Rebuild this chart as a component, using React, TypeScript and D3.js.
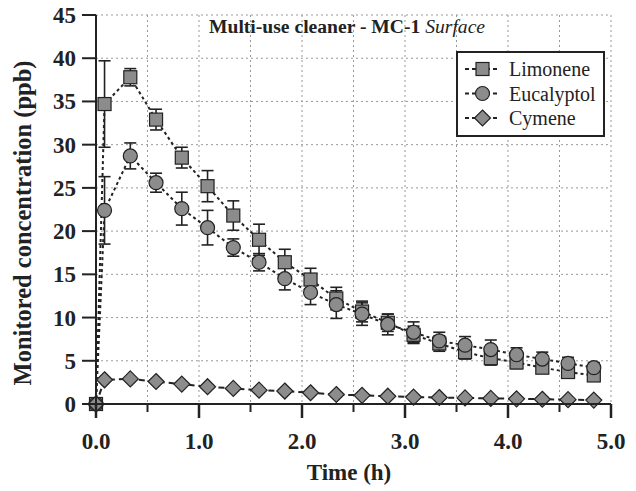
import React from 'react';
import * as d3 from 'd3';

const times = [0, 0.083, 0.333, 0.583, 0.833, 1.083, 1.333, 1.583, 1.833, 2.083, 2.333, 2.583, 2.833, 3.083, 3.333, 3.583, 3.833, 4.083, 4.333, 4.583, 4.833];

const limonene = [0, 34.7, 37.8, 32.9, 28.5, 25.2, 21.8, 19.0, 16.4, 14.4, 12.2, 10.7, 9.4, 8.0, 7.0, 6.0, 5.3, 4.8, 4.2, 3.7, 3.3];
const limoneneErr = [0, 5.0, 1.0, 1.2, 1.2, 1.8, 1.7, 1.8, 1.5, 1.3, 1.3, 1.2, 1.0, 1.0, 0.9, 0.8, 0.8, 0.7, 0.6, 0.5, 0.5];

const eucalyptol = [0, 22.4, 28.7, 25.6, 22.6, 20.4, 18.1, 16.4, 14.5, 12.9, 11.5, 10.4, 9.2, 8.3, 7.3, 6.8, 6.3, 5.7, 5.2, 4.7, 4.2];
const eucalyptolErr = [0, 3.9, 1.5, 1.1, 1.9, 2.0, 1.0, 1.0, 1.3, 1.4, 1.6, 1.3, 1.2, 1.2, 1.0, 1.0, 1.1, 0.8, 0.8, 0.7, 0.6];

const cymene = [0, 2.8, 2.9, 2.6, 2.3, 2.0, 1.8, 1.6, 1.5, 1.3, 1.1, 1.0, 0.9, 0.8, 0.75, 0.7, 0.65, 0.6, 0.55, 0.5, 0.45];

const xTicks = [0, 1, 2, 3, 4, 5];
const xMinorTicks = [0.5, 1.5, 2.5, 3.5, 4.5];
const yTicks = [0, 5, 10, 15, 20, 25, 30, 35, 40, 45];
const seriesNames = ['Limonene', 'Eucalyptol', 'Cymene'];

const W = 636;
const H = 491;
const FONT = "'Liberation Serif'";
const FILL = '#8c8c8c';
const DARK = '#222';

const x = d3.scaleLinear().domain([0, 5]).range([96, 611]);
const y = d3.scaleLinear().domain([0, 45]).range([404, 15]);

type Shape = 'square' | 'circle' | 'diamond';

const Marker = ({ cx, cy, shape }: { cx: number; cy: number; shape: Shape }) => {
  if (shape === 'square') {
    return <rect x={cx - 6.5} y={cy - 6.5} width={13} height={13} fill={FILL} stroke={DARK} strokeWidth={1.2} />;
  }
  if (shape === 'circle') {
    return <circle cx={cx} cy={cy} r={7} fill={FILL} stroke={DARK} strokeWidth={1.2} />;
  }
  return <path d={`M${cx},${cy - 8}L${cx + 8},${cy}L${cx},${cy + 8}L${cx - 8},${cy}Z`} fill={FILL} stroke={DARK} strokeWidth={1.2} />;
};

const App = () => {
  const line = d3.line<number>().x((_, i) => x(times[i])).y(d => y(d));

  const series = [
    { name: seriesNames[0], values: limonene, err: limoneneErr, shape: 'square' as Shape, dash: '3,3' },
    { name: seriesNames[1], values: eucalyptol, err: eucalyptolErr, shape: 'circle' as Shape, dash: '3,3' },
    { name: seriesNames[2], values: cymene, err: null, shape: 'diamond' as Shape, dash: '6,4' },
  ];

  const gridX = [...xMinorTicks, ...xTicks.slice(1)];
  const txt = { fontFamily: FONT };

  return (
    <svg width={W} height={H} style={{ position: 'absolute', left: 0, top: 0, background: '#fff' }}>
      {/* grid */}
      {gridX.map(t => (
        <line key={'gx' + t} x1={x(t)} x2={x(t)} y1={y(45)} y2={y(0)} stroke="#999" strokeWidth={1} strokeDasharray="2,3" />
      ))}
      {yTicks.slice(1).map(t => (
        <line key={'gy' + t} x1={x(0)} x2={x(5)} y1={y(t)} y2={y(t)} stroke="#999" strokeWidth={1} strokeDasharray="2,3" />
      ))}

      {/* lines */}
      {series.map(s => (
        <path key={'l' + s.name} d={line(s.values) || ''} fill="none" stroke={DARK} strokeWidth={2} strokeDasharray={s.dash} />
      ))}

      {/* error bars */}
      {series.map(s =>
        s.err
          ? s.values.map((v, i) =>
              s.err![i] > 0 ? (
                <g key={'e' + s.name + i} stroke={DARK} strokeWidth={1.6}>
                  <line x1={x(times[i])} x2={x(times[i])} y1={y(v + s.err![i])} y2={y(v - s.err![i])} />
                  <line x1={x(times[i]) - 6} x2={x(times[i]) + 6} y1={y(v + s.err![i])} y2={y(v + s.err![i])} />
                  <line x1={x(times[i]) - 6} x2={x(times[i]) + 6} y1={y(v - s.err![i])} y2={y(v - s.err![i])} />
                </g>
              ) : null
            )
          : null
      )}

      {/* markers */}
      {series.map(s =>
        s.values.map((v, i) => <Marker key={'m' + s.name + i} cx={x(times[i])} cy={y(v)} shape={s.shape} />)
      )}

      {/* axes */}
      <line x1={x(0)} x2={x(0)} y1={y(45)} y2={y(0)} stroke={DARK} strokeWidth={2} />
      <line x1={x(0) - 14} x2={x(5)} y1={y(0)} y2={y(0)} stroke={DARK} strokeWidth={2} />
      {yTicks.map(t => (
        <g key={'yt' + t}>
          <line x1={x(0) - 14} x2={x(0)} y1={y(t)} y2={y(t)} stroke={DARK} strokeWidth={2} />
          <text style={txt} x={x(0) - 20} y={y(t)} dy="0.35em" textAnchor="end" fontSize={23} fontWeight="bold" fill={DARK}>
            {t}
          </text>
        </g>
      ))}
      {xTicks.map(t => (
        <g key={'xt' + t}>
          <line x1={x(t)} x2={x(t)} y1={y(0)} y2={y(0) + 14} stroke={DARK} strokeWidth={2.5} />
          <text style={txt} x={x(t)} y={449} textAnchor="middle" fontSize={23} fontWeight="bold" fill={DARK}>
            {t.toFixed(1)}
          </text>
        </g>
      ))}
      {xMinorTicks.map(t => (
        <line key={'xm' + t} x1={x(t)} x2={x(t)} y1={y(0)} y2={y(0) + 8} stroke={DARK} strokeWidth={2} />
      ))}

      <text style={txt} x={349} y={480} textAnchor="middle" fontSize={23} fontWeight="bold" fill={DARK}>
        Time (h)
      </text>
      <text style={txt} transform={`translate(31,223) rotate(-90)`} textAnchor="middle" fontSize={24.5} fontWeight="bold" fill={DARK}>
        Monitored concentration (ppb)
      </text>

      {/* title */}
      <text style={txt} x={209} y={33} fontSize={19.6} fill={DARK}>
        <tspan fontWeight="bold">Multi-use cleaner - MC-1 </tspan>
        <tspan fontStyle="italic">Surface</tspan>
      </text>

      {/* legend */}
      <rect x={457} y={52} width={147} height={84} fill="#fff" stroke={DARK} strokeWidth={2} />
      {series.map((s, i) => {
        const ly = 69 + i * 24.5;
        return (
          <g key={'lg' + s.name}>
            <line x1={465} x2={500} y1={ly} y2={ly} stroke={DARK} strokeWidth={2} strokeDasharray="4,3" />
            <Marker cx={482.5} cy={ly} shape={s.shape} />
            <text style={txt} x={509} y={ly} dy="0.35em" fontSize={20} fill={DARK}>
              {s.name}
            </text>
          </g>
        );
      })}
    </svg>
  );
};

export default App;
